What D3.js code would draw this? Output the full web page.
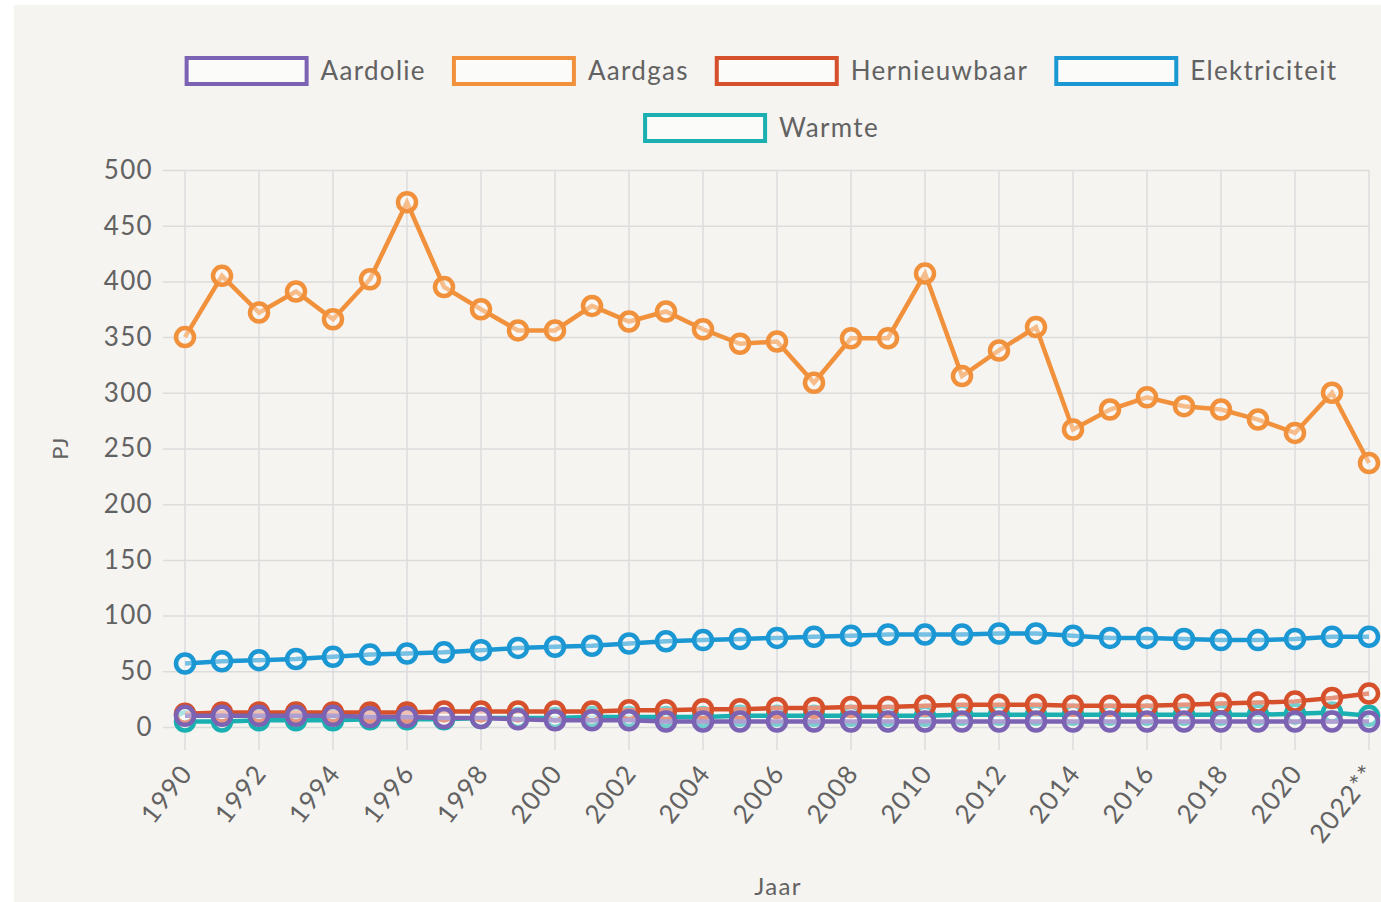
<!DOCTYPE html>
<html>
<head>
<meta charset="utf-8">
<script src="https://cdn.jsdelivr.net/npm/d3@7/dist/d3.min.js"></script>
<style>
  html, body { margin: 0; padding: 0; background: #fff; }
  svg { display: block; font-family: Lato, "Open Sans", sans-serif; letter-spacing: 1.3px; }
</style>
</head>
<body>
<svg id="chart"></svg>
<script>
// categories
const years = ['1990', '1991', '1992', '1993', '1994', '1995', '1996', '1997', '1998', '1999',
    '2000', '2001', '2002', '2003', '2004', '2005', '2006', '2007', '2008', '2009',
    '2010', '2011', '2012', '2013', '2014', '2015', '2016', '2017', '2018', '2019',
    '2020', '2021', '2022**']

// series values (PJ)
const aardolie = [10, 10, 10, 10, 10, 9, 9, 8, 8, 7,
    6, 6, 6, 5, 5, 5, 5, 5, 5, 5,
    5, 5, 5, 5, 5, 5, 5, 5, 5, 5,
    5, 5, 5]
const aardgas = [350, 405, 372, 391, 366, 402, 471, 395, 375, 356,
    356, 378, 364, 373, 357, 344, 346, 309, 349, 349,
    407, 315, 338, 359, 267, 285, 296, 288, 285, 276,
    264, 300, 237]
const hernieuwbaar = [12, 13, 13, 13, 13, 13, 13, 14, 14, 14,
    14, 14, 15, 15, 16, 16, 17, 17, 18, 18,
    19, 20, 20, 20, 19, 19, 19, 20, 21, 22,
    23, 26, 30]
const elektriciteit = [57, 59, 60, 61, 63, 65, 66, 67, 69, 71,
    72, 73, 75, 77, 78, 79, 80, 81, 82, 83,
    83, 83, 84, 84, 82, 80, 80, 79, 78, 78,
    79, 81, 81]
const warmte = [5, 5, 6, 6, 6, 7, 7, 7, 8, 8,
    8, 9, 9, 9, 9, 10, 10, 10, 10, 10,
    10, 11, 11, 11, 11, 11, 11, 11, 11, 11,
    12, 13, 10]

const seriesNames = ['Aardolie', 'Aardgas', 'Hernieuwbaar', 'Elektriciteit', 'Warmte']
const seriesValues = [aardolie, aardgas, hernieuwbaar, elektriciteit, warmte]
const seriesColors = ['#7b62b3', '#f1913c', '#d5502b', '#1b97d3', '#1aafb0']

const yTicks = [0, 50, 100, 150, 200, 250, 300, 350, 400, 450, 500]

const W = 1381
const H = 902
const fontSize = 26
const textColor = '#626262'
const gridColor = '#dcdcdc'

const svg = d3.select('#chart')
    .attr('width', W)
    .attr('height', H)

svg.append('rect')
    .attr('x', 14)
    .attr('y', 5)
    .attr('width', W - 14)
    .attr('height', H - 5)
    .attr('fill', '#f5f4f1')

const x = d3.scalePoint()
    .domain(years)
    .range([185, 1369])

const y = d3.scaleLinear()
    .domain([0, 500])
    .range([727, 170])

// horizontal grid + y labels
const yAxis = d3.axisLeft(y)
    .tickValues(yTicks)
    .tickSize(-(1369 - 163))
    .tickPadding(10)

svg.append('g')
    .attr('transform', 'translate(163,0)')
    .call(yAxis)
    .call(g => g.select('.domain').remove())
    .call(g => g.selectAll('.tick line').attr('stroke', gridColor).attr('stroke-width', 1.5))
    .call(g => g.selectAll('.tick text')
        .attr('fill', textColor)
        .attr('font-size', fontSize)
        .attr('font-family', 'Lato, sans-serif'))

// vertical grid every second year
const shown = years.filter((d, i) => i % 2 === 0)

svg.append('g')
    .selectAll('line')
    .data(shown)
    .enter()
    .append('line')
    .attr('x1', d => x(d))
    .attr('x2', d => x(d))
    .attr('y1', 170)
    .attr('y2', 750)
    .attr('stroke', gridColor)
    .attr('stroke-width', 1.5)

svg.append('g')
    .selectAll('text')
    .data(shown)
    .enter()
    .append('text')
    .attr('transform', d => `translate(${x(d) - 6},${762}) rotate(-52)`)
    .attr('text-anchor', 'end')
    .attr('dy', '0.72em')
    .attr('fill', textColor)
    .attr('font-size', fontSize)
    .text(d => d)

// axis titles
svg.append('text')
    .attr('x', 778)
    .attr('y', 895)
    .attr('text-anchor', 'middle')
    .attr('fill', textColor)
    .attr('font-size', 24)
    .text('Jaar')

svg.append('text')
    .attr('transform', 'translate(68,448) rotate(-90)')
    .attr('text-anchor', 'middle')
    .attr('fill', textColor)
    .attr('font-size', 22)
    .text('PJ')

// lines, drawn last series first so Aardolie sits on top
const line = d3.line()
    .x((d, i) => x(years[i]))
    .y(d => y(d))

for (let s = seriesNames.length - 1; s >= 0; s--) {
    const g = svg.append('g')
    g.append('path')
        .datum(seriesValues[s])
        .attr('d', line)
        .attr('fill', 'none')
        .attr('stroke', seriesColors[s])
        .attr('stroke-width', 4.5)
    g.selectAll('circle')
        .data(seriesValues[s])
        .enter()
        .append('circle')
        .attr('cx', (d, i) => x(years[i]))
        .attr('cy', d => y(d))
        .attr('r', 9)
        .attr('fill', 'rgba(255,255,255,0.4)')
        .attr('stroke', seriesColors[s])
        .attr('stroke-width', 4.5)
}

// legend
const boxW = 120
const boxH = 26
const boxGap = 14
const itemGap = 28
const legendCenter = 762
const rows = [[0, 1, 2, 3], [4]]
const rowY = [71, 128]

const measure = svg.append('text').attr('font-size', fontSize)
const textW = seriesNames.map(n => {
    measure.text(n)
    return measure.node().getComputedTextLength()
})
measure.remove()

rows.forEach((row, r) => {
    const widths = row.map(i => boxW + boxGap + textW[i])
    const total = d3.sum(widths) + itemGap * (row.length - 1)
    let cx = legendCenter - total / 2
    row.forEach((i, k) => {
        svg.append('rect')
            .attr('x', cx)
            .attr('y', rowY[r] - boxH / 2)
            .attr('width', boxW)
            .attr('height', boxH)
            .attr('fill', 'rgba(255,255,255,0.6)')
            .attr('stroke', seriesColors[i])
            .attr('stroke-width', 4)
        svg.append('text')
            .attr('x', cx + boxW + boxGap)
            .attr('y', rowY[r])
            .attr('dy', '0.35em')
            .attr('fill', textColor)
            .attr('font-size', fontSize)
            .text(seriesNames[i])
        cx += widths[k] + itemGap
    })
})
</script>
</body>
</html>
